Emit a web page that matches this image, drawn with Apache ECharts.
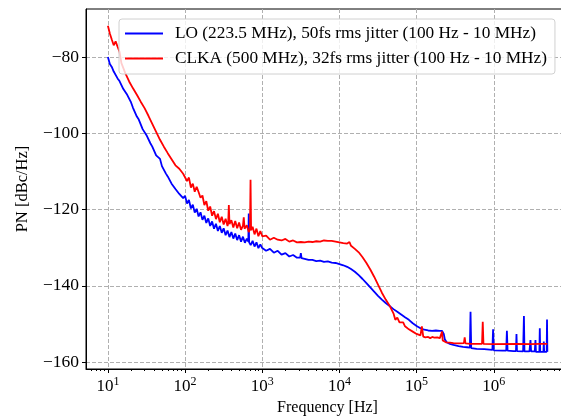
<!DOCTYPE html>
<html>
<head>
<meta charset="UTF-8">
<script src="https://cdn.jsdelivr.net/npm/echarts@6/dist/echarts.min.js"></script>
<title>Phase noise</title>
<style>
  html, body { margin: 0; padding: 0; background: #fff; }
  #main { width: 561px; height: 416px; }
</style>
</head>
<body>
<div id="main"></div>
<script>
// series names
var loName = 'LO (223.5 MHz), 50fs rms jitter (100 Hz - 10 MHz)';
var clkName = 'CLKA (500 MHz), 32fs rms jitter (100 Hz - 10 MHz)';

// [frequency Hz, PN dBc/Hz]
var loData = [
  [10,-80.0],[10.59,-81.8],[11.22,-82.6],[11.89,-83.8],[12.59,-83.9],[13.34,-85.6],[14.13,-86.3],[14.96,-86.7],
  [15.85,-88.4],[16.79,-88.2],[17.78,-89.9],[18.84,-89.6],[19.95,-91.9],[21.13,-93.3],[22.39,-93.0],[23.71,-95.6],
  [25.12,-96.4],[26.61,-96.6],[28.18,-98.9],[29.85,-99.3],[31.62,-100.5],[33.5,-100.6],[35.48,-102.6],[37.58,-103.5],
  [39.81,-103.6],[42.17,-105.8],[44.67,-106.3],[47.32,-106.7],[50.12,-108.6],[53.09,-108.7],[56.23,-110.5],[59.57,-111.3],
  [63.1,-111.4],[66.83,-113.2],[70.79,-113.0],[74.99,-114.6],[79.43,-114.4],[84.14,-115.9],[89.13,-115.5],[94.41,-117.0],
  [100,-116.4],[105.9,-118.4],[112.2,-117.5],[118.9,-119.7],[125.9,-118.7],[133.4,-120.8],[141.3,-119.8],[149.6,-121.8],
  [158.5,-120.7],[167.9,-122.7],[177.8,-121.6],[188.4,-123.5],[199.5,-122.3],[211.3,-124.3],[223.9,-123.1],[237.1,-125.0],
  [251.2,-123.7],[266.1,-125.6],[281.8,-124.3],[298.5,-126.1],[316.2,-124.9],[335,-126.7],[354.8,-125.5],[375.8,-127.2],
  [398.1,-125.9],[421.7,-127.6],[446.7,-126.3],[473.2,-128.0],[501.2,-126.7],[530.9,-128.4],[562.3,-127.1],[595.7,-128.7],
  [631,-127.6],[660,-128.4],[668,-121.0],[676,-128.6],[707.9,-129.3],[749.9,-128.2],[794.3,-129.7],[841.4,-128.6],
  [891.3,-130.1],[944.1,-129.1],[1000,-130.1],[1122,-130.8],[1259,-130.3],[1413,-131.3],[1585,-130.8],[1778,-131.8],
  [1995,-131.4],[2239,-132.3],[2512,-131.9],[2818,-132.6],[3100,-132.6],[3162,-131.4],[3230,-132.7],[3548,-132.9],
  [3981,-133.2],[4467,-133.2],[5012,-133.5],[5623,-133.4],[6310,-133.7],[7079,-133.6],[7943,-133.9],[8913,-134.0],
  [10000,-134.3],[11220,-134.6],[12590,-135.0],[14130,-135.6],[15850,-136.3],[17780,-137.2],[19950,-138.2],[22390,-139.3],
  [25120,-140.4],[28180,-141.5],[31620,-142.6],[35480,-143.6],[39810,-144.5],[44670,-145.3],[50120,-146.1],[56230,-146.8],
  [63100,-147.5],[70790,-148.2],[79430,-148.9],[89130,-149.8],[100000,-150.5],[112200,-151.1],[125900,-151.5],[141300,-151.7],
  [158500,-151.8],[177800,-151.7],[199500,-151.8],[214000,-151.8],[225000,-152.6],[232000,-154.0],[245000,-154.8],[270000,-155.2],
  [300000,-155.5],[350000,-155.8],[400000,-156.0],[450000,-156.1],[490000,-156.2],[500000,-146.8],[510000,-156.3],[600000,-156.5],
  [750000,-156.6],[960000,-156.8],[980000,-151.4],[1000000,-156.9],[1300000,-157.0],[1450000,-157.0],[1480000,-151.8],[1510000,-157.0],
  [1800000,-157.1],[1940000,-157.1],[1970000,-152.6],[2000000,-157.1],[2400000,-157.2],[2460000,-147.9],[2500000,-157.2],[2900000,-157.2],
  [2990000,-154.2],[3050000,-157.2],[3400000,-157.2],[3470000,-154.2],[3520000,-157.3],[3900000,-157.3],[3950000,-151.1],[4000000,-157.3],
  [4400000,-157.3],[4450000,-154.6],[4500000,-157.3],[4850000,-157.3],[4900000,-148.8],[4950000,-157.3]
];

var clkData = [
  [10,-71.8],[10.59,-73.8],[11.22,-75.4],[11.89,-76.9],[12.59,-75.9],[13.34,-77.3],[14.13,-78.6],[14.96,-81.6],
  [15.85,-82.9],[16.79,-84.2],[17.78,-84.6],[18.84,-86.4],[19.95,-86.1],[21.13,-88.2],[22.39,-88.0],[23.71,-89.9],
  [25.12,-90.0],[26.61,-91.7],[28.18,-91.6],[29.85,-93.4],[31.62,-93.5],[33.5,-95.4],[35.48,-95.2],[37.58,-97.5],
  [39.81,-97.6],[42.17,-99.6],[44.67,-99.8],[47.32,-101.7],[50.12,-101.8],[53.09,-103.5],[56.23,-103.5],[59.57,-105.2],
  [63.1,-105.0],[66.83,-106.8],[70.79,-106.7],[74.99,-108.4],[79.43,-108.0],[84.14,-109.3],[89.13,-108.9],[94.41,-110.6],
  [100,-110.2],[105.9,-112.5],[112.2,-111.6],[118.9,-114.2],[125.9,-113.2],[133.4,-115.3],[141.3,-114.0],[149.6,-115.4],
  [158.5,-116.9],[167.9,-116.3],[177.8,-118.8],[188.4,-117.8],[199.5,-120.3],[211.3,-119.2],[223.9,-121.6],[237.1,-120.4],
  [251.2,-122.5],[266.1,-121.1],[281.8,-123.3],[298.5,-121.9],[316.2,-123.9],[335,-122.4],[354.8,-124.3],[362,-123.5],
  [369,-118.8],[376,-123.8],[398.1,-122.8],[421.7,-124.7],[446.7,-123.0],[473.2,-124.9],[501.2,-123.4],[530.9,-125.3],
  [562,-124.2],[576,-122.0],[590,-125.0],[631,-124.1],[668.3,-125.9],[693,-125.2],[705,-112.2],[717,-125.4],
  [749.9,-124.5],[794.3,-126.5],[841.4,-125.0],[891.3,-127.0],[944.1,-125.6],[1000,-127.0],[1122,-126.8],[1259,-127.9],
  [1413,-127.4],[1585,-127.9],[1778,-128.1],[1995,-127.7],[2239,-128.4],[2512,-128.1],[2818,-128.6],[3162,-128.5],
  [3548,-128.6],[3981,-128.4],[4467,-128.5],[5012,-128.3],[5623,-128.4],[6310,-128.1],[7079,-128.2],[7943,-128.2],
  [8913,-128.4],[10000,-128.6],[11220,-128.8],[12590,-128.9],[13500,-128.5],[14130,-129.5],[15850,-130.3],[17780,-131.2],
  [19950,-132.5],[22390,-134.0],[25120,-135.7],[28180,-137.6],[31620,-139.7],[35480,-141.8],[39810,-143.6],[44670,-145.2],
  [50120,-147.2],[53000,-148.9],[56230,-148.3],[60000,-149.6],[63100,-150.0],[67000,-149.6],[70790,-150.6],[75000,-151.0],
  [79430,-151.4],[84000,-151.2],[89130,-152.0],[94400,-152.2],[100000,-152.6],[106000,-152.4],[112200,-153.0],[117000,-150.6],
  [122000,-153.3],[130000,-153.5],[141300,-153.4],[150000,-153.7],[160000,-153.4],[170000,-153.6],[185000,-153.5],[200000,-153.7],
  [210000,-153.6],[214000,-152.0],[218000,-154.3],[240000,-154.8],[270000,-154.9],[300000,-155.0],[350000,-155.1],[410000,-155.0],
  [420000,-153.5],[430000,-155.1],[500000,-155.2],[600000,-155.2],[705000,-155.2],[720000,-149.4],[735000,-155.2],[1000000,-155.3],
  [2000000,-155.2],[3000000,-155.3],[4000000,-155.2],[4950000,-155.2]
];

// axis ticks
var xMajor = [10, 100, 1000, 10000, 100000, 1000000];
var yTicks = [-160, -140, -120, -100, -80];

var xMin = 5.2, xMax = 9.44e6;
var yMin = -161.8, yMax = -67.4;

var xMinor = [];
for (var p = 1; p <= 1e6; p *= 10) {
  for (var k = 2; k <= 9; k++) {
    var v = k * p;
    if (v > xMin && v < xMax) xMinor.push(v);
  }
}

var serif = 'Liberation Serif';
var chart = echarts.init(document.getElementById('main'), null, { renderer: 'canvas' });

var option = {
  animation: false,
  textStyle: { fontFamily: serif },
  grid: {
    left: 86, top: 9, right: -8, bottom: 47,
    outerBoundsMode: 'none',
    show: true, borderColor: '#000', borderWidth: 1, backgroundColor: 'transparent'
  },
  legend: {
    left: 119, top: 19,
    orient: 'vertical',
    icon: 'rect',
    itemWidth: 38, itemHeight: 2,
    itemGap: 8,
    padding: [6, 8, 7, 6],
    backgroundColor: 'rgba(255,255,255,0.8)',
    borderColor: '#d0d0d0', borderWidth: 1, borderRadius: 3,
    textStyle: { fontFamily: serif, fontSize: 17.3, color: '#000', padding: [0, 0, 0, 7], lineHeight: 17 },
    data: [loName, clkName]
  },
  xAxis: [{
    type: 'log', logBase: 10, min: xMin, max: xMax,
    name: 'Frequency [Hz]', nameLocation: 'middle', nameGap: 28,
    nameTextStyle: { fontFamily: serif, fontSize: 16, color: '#000' },
    axisLine: { show: true, lineStyle: { color: '#000', width: 1 } },
    axisTick: { show: true, customValues: xMajor, length: 4, lineStyle: { color: '#000' } },
    axisLabel: {
      customValues: xMajor, margin: 7, color: '#000',
      formatter: function (val) {
        var n = Math.round(Math.log10(val));
        return '{b|10}{s|' + n + '}';
      },
      rich: {
        b: { fontFamily: serif, fontSize: 17, color: '#000' },
        s: { fontFamily: serif, fontSize: 12, color: '#000', padding: [0, 0, 9, 0] }
      }
    },
    splitLine: { show: true, lineStyle: { color: '#b0b0b0', type: [4, 2], width: 1 } },
    minorTick: { show: false }
  }, {
    type: 'log', logBase: 10, min: xMin, max: xMax, gridIndex: 0, position: 'bottom',
    axisLine: { show: false },
    axisTick: { show: true, customValues: xMinor, length: 2, lineStyle: { color: '#000' } },
    axisLabel: { show: false, customValues: xMinor },
    splitLine: { show: false }
  }],
  yAxis: {
    type: 'value', min: yMin, max: yMax,
    name: 'PN [dBc/Hz]', nameLocation: 'middle', nameGap: 55, nameRotate: 90,
    nameTextStyle: { fontFamily: serif, fontSize: 16.5, color: '#000' },
    axisLine: { show: true, lineStyle: { color: '#000', width: 1 } },
    axisTick: { show: true, customValues: yTicks, length: 4, lineStyle: { color: '#000' } },
    axisLabel: {
      customValues: yTicks, margin: 7, color: '#000', fontFamily: serif, fontSize: 17.5,
      formatter: function (val) { return String(val).replace('-', '\u2212'); }
    },
    splitLine: { show: true, lineStyle: { color: '#b0b0b0', type: [4, 2], width: 1 } }
  },
  series: [{
    name: loName, type: 'line', xAxisIndex: 0, data: loData,
    showSymbol: false, symbol: 'none',
    lineStyle: { color: '#0000ff', width: 1.8 }, itemStyle: { color: '#0000ff' }
  }, {
    name: clkName, type: 'line', xAxisIndex: 0, data: clkData,
    showSymbol: false, symbol: 'none',
    lineStyle: { color: '#ff0000', width: 1.8 }, itemStyle: { color: '#ff0000' }
  }]
};

chart.setOption(option);
</script>
</body>
</html>
